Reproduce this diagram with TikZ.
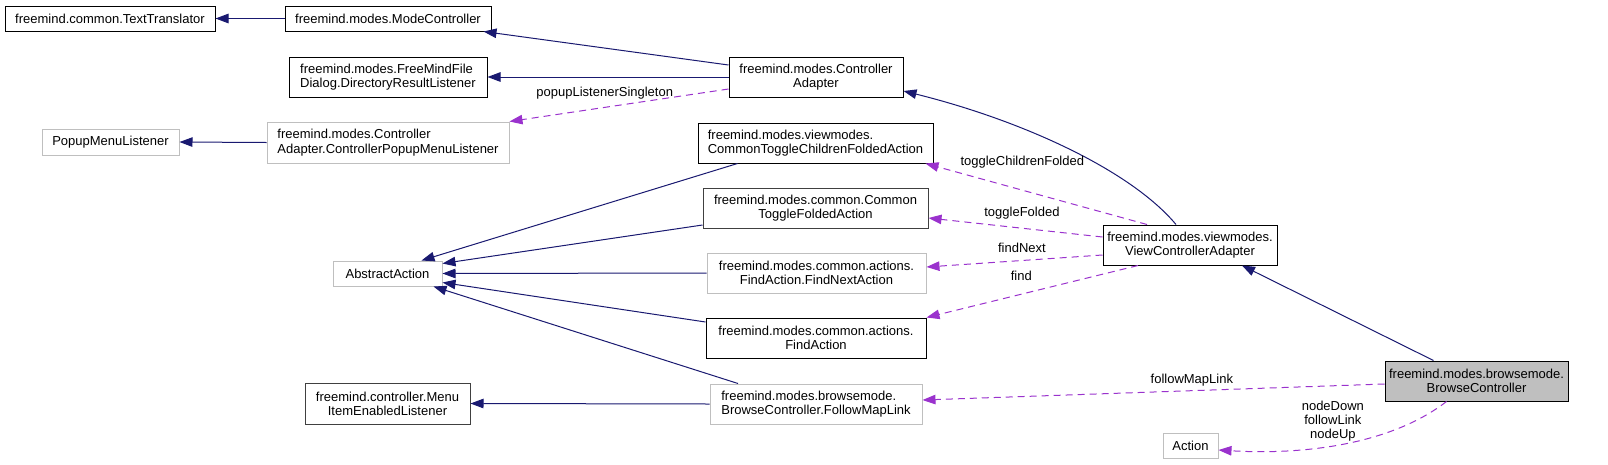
\documentclass[tikz,border=0pt]{standalone}
\usepackage{fontspec}
\setmainfont{Liberation Sans}
\usetikzlibrary{arrows.meta,calc}
\definecolor{edgeblue}{HTML}{191970}
\definecolor{edgepurple}{HTML}{9A32CD}
\definecolor{boxgray}{HTML}{BFBFBF}
\definecolor{boxdark}{HTML}{404040}
\begin{document}
\begin{tikzpicture}[x=1pt,y=-1pt,
  font=\fontsize{13}{14.3}\selectfont,
  clsbox/.style={draw=black, line width=1pt, inner sep=0pt, align=center, fill=white},
  undocbox/.style={clsbox, draw=boxgray},
  darkbox/.style={clsbox, draw=boxdark},
  curbox/.style={clsbox, fill=boxgray},
  inherit/.style={draw=edgeblue, line width=1pt, -{Triangle[length=13pt,width=9.5pt]}},
  usage/.style={draw=edgepurple, line width=1pt, dash pattern=on 7pt off 5pt, -{Triangle[length=13pt,width=9.5pt]}},
  lbl/.style={inner sep=0pt, text=black, align=center}]
\useasboundingbox (0,0) rectangle (1608,464);

% nodes
\node[clsbox, minimum width=210pt, minimum height=25pt] (tt) at (110,18.5) {freemind.common.TextTranslator};
\node[clsbox, minimum width=206pt, minimum height=25pt] (mc) at (388,18.5) {freemind.modes.ModeController};
\node[clsbox, minimum width=198pt, minimum height=40pt, align=left] (fmd) at (388,77) {freemind.modes.FreeMindFile\\Dialog.DirectoryResultListener};
\node[clsbox, minimum width=174pt, minimum height=40pt] (ca) at (816,77) {freemind.modes.Controller\\Adapter};
\node[undocbox, minimum width=137pt, minimum height=26pt] (pml) at (110.5,142) {PopupMenuListener};
\node[undocbox, minimum width=242pt, minimum height=41pt, align=left] (popup) at (388,142.5) {freemind.modes.Controller\\Adapter.ControllerPopupMenuListener};
\node[clsbox, minimum width=235pt, minimum height=40pt, align=left] (ctcfa) at (815.5,143) {freemind.modes.viewmodes.\\CommonToggleChildrenFoldedAction};
\node[darkbox, minimum width=225pt, minimum height=40pt] (ctfa) at (815.5,208) {freemind.modes.common.Common\\ToggleFoldedAction};
\node[undocbox, minimum width=219pt, minimum height=40pt] (fna) at (816.5,273) {freemind.modes.common.actions.\\FindAction.FindNextAction};
\node[clsbox, minimum width=220pt, minimum height=40pt] (fa) at (816,338) {freemind.modes.common.actions.\\FindAction};
\node[undocbox, minimum width=109pt, minimum height=25pt] (aa) at (387.5,273.5) {AbstractAction};
\node[clsbox, minimum width=174pt, minimum height=40pt] (vca) at (1190,245) {freemind.modes.viewmodes.\\ViewControllerAdapter};
\node[curbox, minimum width=183pt, minimum height=40pt] (bc) at (1476.5,381) {freemind.modes.browsemode.\\BrowseController};
\node[undocbox, minimum width=55pt, minimum height=25pt] (act) at (1190.5,445.5) {Action};
\node[darkbox, minimum width=165pt, minimum height=41pt] (miel) at (387.5,403.5) {freemind.controller.Menu\\ItemEnabledListener};
\node[undocbox, minimum width=212pt, minimum height=40pt, align=left] (fml) at (816,404) {freemind.modes.browsemode.\\BrowseController.FollowMapLink};

% inheritance edges
\draw[inherit] (mc.west) -- (tt.east);
\draw[inherit] ($(ca.west)+(0,-12)$) -- ($(mc.south east)+(-8,0)$);
\draw[inherit] (ca.west) -- (fmd.east);
\draw[inherit] (popup.west) -- (pml.east);
\draw[inherit] ($(vca.north)+(-14,0)$) .. controls +(-46,-55) and +(117,29) .. ($(ca.east)+(0,14)$);
\draw[inherit] ($(bc.north)+(-43,0)$) -- ($(vca.south)+(52,0)$);
\draw[inherit] ($(ctcfa.south)+(-78,0)$) -- ($(aa.north)+(34,0)$);
\draw[inherit] ($(ctfa.west)+(0,17)$) -- ($(aa.east)+(0,-10)$);
\draw[inherit] (fna.west) -- (aa.east);
\draw[inherit] ($(fa.west)+(0,-16)$) -- ($(aa.east)+(0,9)$);
\draw[inherit] ($(fml.north)+(-78,0)$) -- ($(aa.south)+(46,0)$);
\draw[inherit] (fml.west) -- (miel.east);

% usage edges
\draw[usage] ($(ca.west)+(0,12)$) -- (popup.north east)
  node[lbl, pos=0.565, yshift=14pt] {popupListenerSingleton};
\draw[usage] ($(vca.north)+(-43,0)$) -- ($(ctcfa.south east)+(-8,0)$)
  node[lbl, pos=0.563, yshift=28pt] {toggleChildrenFolded};
\draw[usage] ($(vca.west)+(0,-8)$) -- ($(ctfa.east)+(0,10)$)
  node[lbl, pos=0.463, yshift=15pt] {toggleFolded};
\draw[usage] ($(vca.west)+(0,10)$) -- ($(fna.east)+(0,-6)$)
  node[lbl, pos=0.458, yshift=12.5pt] {findNext};
\draw[usage] ($(vca.south)+(-52,0)$) -- (fa.north east)
  node[lbl, pos=0.552, yshift=18pt] {find};
\draw[usage] ($(bc.west)+(0,3)$) -- ($(fml.east)+(0,-4)$)
  node[lbl, pos=0.417, yshift=10.7pt] {followMapLink};
\draw[usage] ($(bc.south)+(-30,0)$) .. controls +(-57,44) and +(82,5) .. ($(act.east)+(0,4.5)$)
  node[lbl, pos=0.5, xshift=-9pt, yshift=23pt] {nodeDown\\followLink\\nodeUp};
\end{tikzpicture}
\end{document}
